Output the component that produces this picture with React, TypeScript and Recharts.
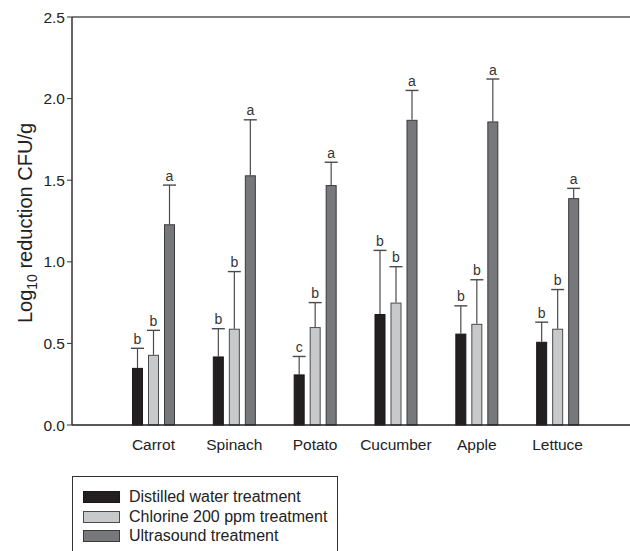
import React from 'react';
import { BarChart, Bar, XAxis, YAxis, ReferenceLine, Legend } from 'recharts';

const categories = ['Carrot', 'Spinach', 'Potato', 'Cucumber', 'Apple', 'Lettuce'];

const distilled = [0.35, 0.42, 0.31, 0.68, 0.56, 0.51];
const distilledSD = [0.12, 0.17, 0.11, 0.39, 0.17, 0.12];
const distilledLetters = ['b', 'b', 'c', 'b', 'b', 'b'];

const chlorine = [0.43, 0.59, 0.6, 0.75, 0.62, 0.59];
const chlorineSD = [0.15, 0.35, 0.15, 0.22, 0.27, 0.24];
const chlorineLetters = ['b', 'b', 'b', 'b', 'b', 'b'];

const ultrasound = [1.23, 1.53, 1.47, 1.87, 1.86, 1.39];
const ultrasoundSD = [0.24, 0.34, 0.14, 0.18, 0.26, 0.06];
const ultrasoundLetters = ['a', 'a', 'a', 'a', 'a', 'a'];

const yTicks = [0, 0.5, 1.0, 1.5, 2.0, 2.5];

const seriesNames = ['Distilled water treatment', 'Chlorine 200 ppm treatment', 'Ultrasound treatment'];

const data = categories.map((name, i) => ({
  name,
  distilled: distilled[i],
  distilledSD: distilledSD[i],
  distilledLetter: distilledLetters[i],
  chlorine: chlorine[i],
  chlorineSD: chlorineSD[i],
  chlorineLetter: chlorineLetters[i],
  ultrasound: ultrasound[i],
  ultrasoundSD: ultrasoundSD[i],
  ultrasoundLetter: ultrasoundLetters[i],
}));

const FONT = '"Liberation Sans", Arial, Helvetica, sans-serif';

const STYLES = [
  { key: 'distilled', fill: '#231f20', stroke: '#1a1718' },
  { key: 'chlorine', fill: '#c8c9cb', stroke: '#4a4a4c' },
  { key: 'ultrasound', fill: '#77787b', stroke: '#3a3a3c' },
];

const makeShape = (key: string, fill: string, stroke: string) => (props: any) => {
  const { x, y, width, height, payload } = props;
  const v = payload[key];
  const sd = payload[key + 'SD'];
  const letter = payload[key + 'Letter'];
  const base = y + height;
  const ppu = v ? height / v : 0;
  const errY = base - (v + sd) * ppu;
  const cx = x + width / 2;
  return (
    <g>
      <line x1={cx} x2={cx} y1={y} y2={errY} stroke="#4a4a4a" strokeWidth={1.2} />
      <line x1={cx - 6.5} x2={cx + 6.5} y1={errY} y2={errY} stroke="#4a4a4a" strokeWidth={1.4} />
      <rect x={x + 0.5} y={y + 0.5} width={width - 1} height={Math.max(height - 0.5, 0)} fill={fill} stroke={stroke} strokeWidth={1} />
      <text x={cx} y={errY - 4.5} textAnchor="middle" fontSize={14} fill="#333" fontFamily={FONT}>
        {letter}
      </text>
    </g>
  );
};

const YLabel = () => (
  <text
    x={32}
    y={223}
    transform="rotate(-90 32 223)"
    textAnchor="middle"
    fontSize={20}
    fill="#222"
    fontFamily={FONT}
  >
    Log
    <tspan fontSize={14} dy={5}>10</tspan>
    <tspan dy={-5}> reduction CFU/g</tspan>
  </text>
);

const LegendBox = () => (
  <div
    style={{
      position: 'relative',
      width: 266,
      height: 75,
      boxSizing: 'border-box',
      borderTop: '1.5px solid #333',
      borderLeft: '1.5px solid #333',
      borderRight: '1.5px solid #333',
      fontFamily: FONT,
      fontSize: 16,
      color: '#222',
    }}
  >
    {STYLES.map((s, i) => (
      <div key={s.key} style={{ position: 'absolute', left: 10, top: 11 + i * 19.5, height: 18, display: 'flex', alignItems: 'center', whiteSpace: 'nowrap' }}>
        <span
          style={{
            display: 'inline-block',
            width: 37,
            height: 12,
            boxSizing: 'border-box',
            background: s.fill,
            border: `1px solid ${s.stroke}`,
            marginRight: 9,
          }}
        />
        <span>{seriesNames[i]}</span>
      </div>
    ))}
  </div>
);

export default function App() {
  return (
    <div style={{ position: 'absolute', left: 0, top: 0, width: 630, height: 551, background: '#fff', overflow: 'hidden' }}>
      <BarChart
        width={630}
        height={551}
        data={data}
        margin={{ top: 17, right: 0, left: 0, bottom: 96 }}
        barSize={11}
        barGap={5}
        style={{ fontFamily: FONT }}
      >
        <XAxis
          dataKey="name"
          padding={{ left: 41, right: 32 }}
          axisLine={{ stroke: '#222', strokeWidth: 1.5 }}
          tickLine={false}
          tickSize={0}
          tickMargin={14}
          height={30}
          tick={{ fill: '#222', fontSize: 15.5, fontFamily: FONT }}
          interval={0}
        />
        <YAxis
          type="number"
          domain={[0, 2.5]}
          ticks={yTicks}
          tickFormatter={(v: number) => v.toFixed(1)}
          width={72}
          axisLine={{ stroke: '#333', strokeWidth: 1.5 }}
          tickLine={{ stroke: '#333' }}
          tickSize={5}
          tickMargin={2}
          tick={{ fill: '#222', fontSize: 15.5, fontFamily: FONT }}
          label={{ content: () => <YLabel /> }}
        />
        <ReferenceLine y={2.5} stroke="#555" strokeWidth={1.5} />
        <Legend
          layout="vertical"
          align="center"
          verticalAlign="middle"
          content={() => <LegendBox />}
          wrapperStyle={{ left: 72, top: 476, width: 266, height: 75 }}
        />
        {STYLES.map((s, i) => (
          <Bar
            key={s.key}
            dataKey={s.key}
            name={seriesNames[i]}
            fill={s.fill}
            isAnimationActive={false}
            shape={makeShape(s.key, s.fill, s.stroke)}
          />
        ))}
      </BarChart>
    </div>
  );
}
